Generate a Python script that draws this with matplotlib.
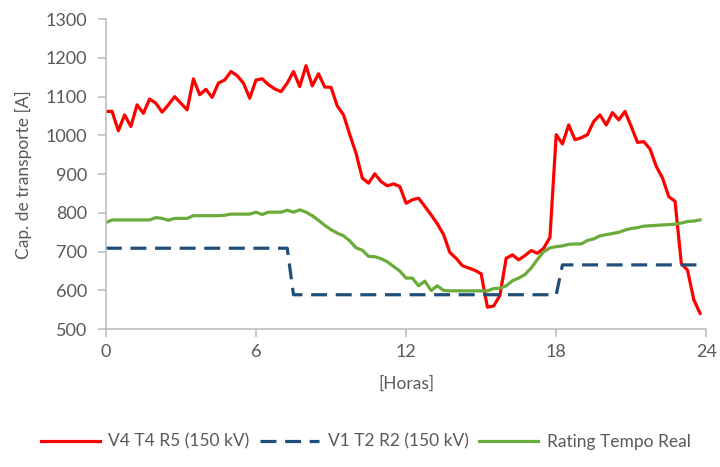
import numpy as np
import matplotlib
matplotlib.use("Agg")
import matplotlib.pyplot as plt

plt.rcParams['font.family'] = ['Lato', 'DejaVu Sans']

# time axis: 15-minute steps
hours = np.arange(96) * 0.25

v4_t4_r5 = [1062, 1062, 1012, 1053, 1023, 1079, 1057, 1094, 1083, 1060,
            1079, 1100, 1083, 1066, 1146, 1105, 1119, 1098, 1135, 1143,
            1165, 1154, 1135, 1096, 1143, 1146, 1131, 1120, 1113, 1135,
            1165, 1126, 1180, 1128, 1159, 1125, 1124, 1076, 1053, 1002,
            954, 890, 877, 901, 881, 870, 875, 868, 825, 834,
            838, 817, 795, 772, 744, 698, 683, 664, 658, 652,
            643, 557, 560, 587, 683, 692, 679, 690, 703, 696,
            709, 737, 1002, 978, 1027, 989, 994, 1002, 1036, 1053,
            1027, 1059, 1040, 1062, 1023, 982, 984, 965, 920, 890,
            842, 830, 670, 652, 576, 541]

v1_t2_r2 = [709] * 30 + [589] * 43 + [666] * 23

rating = [775, 782, 782, 782, 782, 782, 782, 782, 788, 786,
          781, 786, 786, 786, 793, 793, 793, 793, 793, 794,
          797, 797, 797, 797, 802, 796, 802, 802, 802, 807,
          802, 808, 802, 793, 781, 768, 757, 748, 741, 728,
          710, 704, 688, 687, 682, 674, 662, 650, 632, 632,
          612, 624, 600, 612, 600, 599, 599, 599, 599, 599,
          599, 599, 605, 606, 612, 625, 632, 641, 658, 680,
          700, 710, 713, 715, 719, 720, 720, 729, 733, 741,
          744, 747, 750, 756, 760, 762, 766, 767, 768, 769,
          770, 771, 774, 778, 779, 782]

labels = ["V4 T4 R5 (150 kV)", "V1 T2 R2 (150 kV)", "Rating Tempo Real"]
x_ticks = [0, 6, 12, 18, 24]
y_ticks = list(range(500, 1301, 100))

fig = plt.figure(figsize=(7.2, 4.67), dpi=100)
ax = fig.add_axes([0.147, 0.295, 0.834, 0.664])

ax.plot(hours, v4_t4_r5, color='#ff0000', lw=2.3, label=labels[0])
ax.plot(hours, v1_t2_r2, color='#1f4e79', lw=2.3, dashes=(5, 2.7), label=labels[1])
ax.plot(hours, rating, color='#6aab3c', lw=2.3, label=labels[2])

ax.set_xlim(0, 24)
ax.set_ylim(500, 1300)
ax.set_xticks(x_ticks)
ax.set_yticks(y_ticks)

for s in ['top', 'right']:
    ax.spines[s].set_visible(False)
for s in ['left', 'bottom']:
    ax.spines[s].set_color('#bfbfbf')
    ax.spines[s].set_linewidth(1.2)
ax.tick_params(axis='both', colors='#bfbfbf', length=5.5, width=1.2,
               labelcolor='#595959', labelsize=13)
ax.tick_params(axis='y', pad=8)
ax.tick_params(axis='x', pad=5)

ax.set_ylabel("Cap. de transporte [A]", fontsize=12.5, color='#595959')
ax.set_xlabel("[Horas]", fontsize=12.5, color='#595959')
ax.yaxis.set_label_coords(-0.137, 0.5)
ax.xaxis.set_label_coords(0.5, -0.175)
ax.xaxis.label.set_va('center')
ax.yaxis.label.set_va('center')

leg = fig.legend(loc='center', bbox_to_anchor=(0.508, 0.054), ncol=3, frameon=False,
                 fontsize=12.5, handlelength=3.4, columnspacing=0.6, handletextpad=0.5)
for t in leg.get_texts():
    t.set_color('#595959')

fig.savefig("out.png", dpi=100)
